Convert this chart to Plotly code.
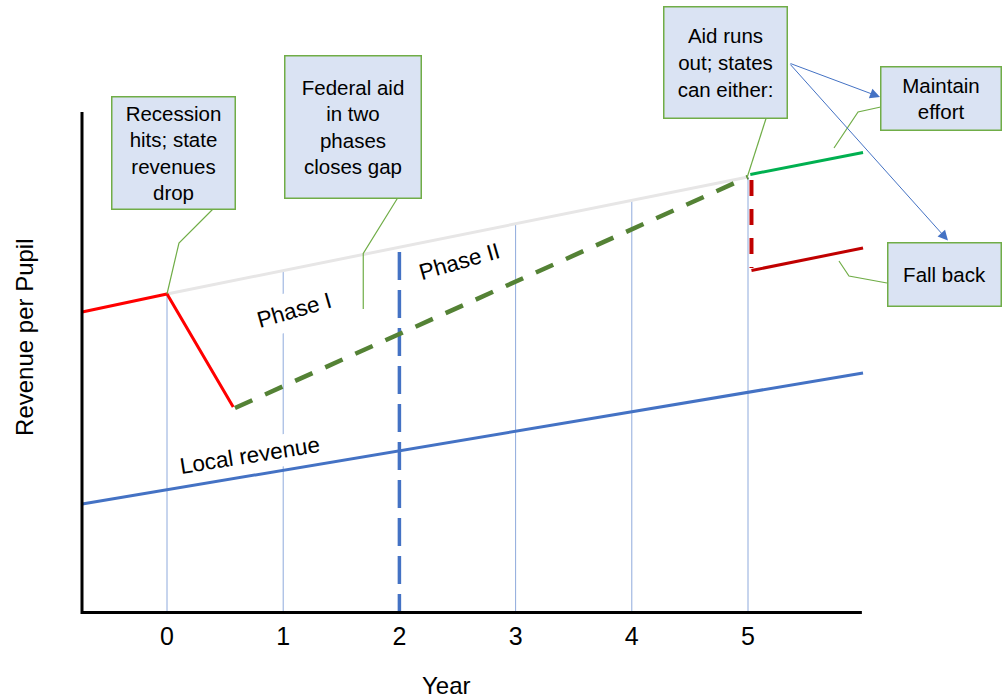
import plotly.graph_objects as go

# ---------------- data (arbitrary revenue units) ----------------
YEARS = [0, 1, 2, 3, 4, 5]
TICK_LABELS = ["0", "1", "2", "3", "4", "5"]

# state revenue before / during the recession
state_x = [-0.73, 0.0, 0.57]
state_y = [5.96, 6.32, 4.06]

# pre-recession trend (light grey)
trend_x = [0.0, 5.0]
trend_y = [6.32, 8.66]

# federal aid path (dashed green)
aid_x = [0.585, 5.0]
aid_y = [4.04, 8.66]

# maintain effort (green)
maintain_x = [5.02, 5.99]
maintain_y = [8.71, 9.15]

# drop when aid runs out (dashed dark red)
drop_x = [5.03, 5.03]
drop_y = [8.60, 6.84]

# fall back (dark red)
fallback_x = [5.03, 5.99]
fallback_y = [6.79, 7.24]

# local revenue (blue)
local_x = [-0.73, 5.99]
local_y = [2.12, 4.74]

# thin guide lines at years
guide_years = [0, 1, 3, 4, 5]
guide_tops = [6.32, 6.79, 7.72, 8.19, 8.66]

# phase split (dashed blue) at year 2
split_year = 2
split_top = 7.16

# axis frame
AX_LEFT = -0.7315
AX_RIGHT = 5.98
AX_TOP = 9.96
AX_BASE = -0.05

# callout boxes: text, x, y, width, height
boxes = [
    ("Recession<br>hits; state<br>revenues<br>drop", 0.056, 9.15, 122, 111),
    ("Federal aid<br>in two<br>phases<br>closes gap", 1.601, 9.67, 135, 141),
    ("Aid runs<br>out; states<br>can either:", 4.806, 10.96, 122, 110),
    ("Maintain<br>effort", 6.66, 10.24, 119, 62),
    ("Fall back", 6.69, 6.72, 112, 62),
]

# leader lines (polylines) from boxes
leaders = [
    ([0.396, 0.103, 0.0], [8.02, 7.34, 6.32]),
    ([1.982, 1.689, 1.689], [8.23, 7.13, 6.02]),
    ([5.155, 4.991], [9.83, 8.64]),
    ([6.142, 5.947, 5.740], [10.06, 9.96, 9.24]),
    ([6.196, 5.869, 5.783], [6.54, 6.68, 6.98]),
]

# arrows from "Aid runs out" box: (tail x, tail y, head x, head y)
arrows = [
    (5.353, 10.94, 6.136, 10.26),
    (5.353, 10.94, 6.721, 7.39),
]

# rotated labels: text, x, y, angle, background pad
labels = [
    ("Phase I", 1.09, 6.0, -16, 6),
    ("Phase II", 2.52, 6.98, -16, 4),
    ("Local revenue", 0.714, 3.1, -9, 3),
]

FONT = "Liberation Sans, Arial, Helvetica, sans-serif"

fig = go.Figure()


def add_line(x, y, color, width, dash="solid"):
    fig.add_trace(go.Scatter(
        x=x, y=y, mode="lines",
        line=dict(color=color, width=width, dash=dash),
        showlegend=False, hoverinfo="skip",
    ))


# guide lines
gx, gy = [], []
for yr, top in zip(guide_years, guide_tops):
    gx += [yr, yr, None]
    gy += [AX_BASE, top, None]
add_line(gx, gy, "#8faadc", 1)

# trend
add_line(trend_x, trend_y, "#e7e6e6", 3)

# phase split
add_line([split_year, split_year], [split_top, AX_BASE], "#4472c4", 3.5, "28px,10px")

# local revenue
add_line(local_x, local_y, "#4472c4", 3)

# state path
add_line(state_x, state_y, "#ff0000", 3)
add_line(aid_x, aid_y, "#548235", 4.5, "19px,14px")
add_line(maintain_x, maintain_y, "#00b050", 3)
add_line(drop_x, drop_y, "#c00000", 4, "16px,13px")
add_line(fallback_x, fallback_y, "#c00000", 3)

# leader lines
for lx, ly in leaders:
    add_line(lx, ly, "#70ad47", 1.2)

# axis frame
add_line([AX_LEFT, AX_LEFT, AX_RIGHT], [AX_TOP, AX_BASE, AX_BASE], "#000000", 3)

annotations = []
for text, bx, by, w, h in boxes:
    annotations.append(dict(
        x=bx, y=by, xref="x", yref="y", text=text, showarrow=False,
        xanchor="center", yanchor="middle", align="center",
        width=w, height=h, bgcolor="#dae3f3", bordercolor="#70ad47",
        borderwidth=1.5, borderpad=0,
        font=dict(family=FONT, size=20.5, color="#000000"),
    ))

for tx, ty, hx, hy in arrows:
    annotations.append(dict(
        x=hx, y=hy, ax=tx, ay=ty, xref="x", yref="y", axref="x", ayref="y",
        text="", showarrow=True, arrowhead=2, arrowsize=2, arrowwidth=1,
        arrowcolor="#4472c4", standoff=0, startstandoff=0,
    ))

for text, lx, ly, ang, pad in labels:
    annotations.append(dict(
        x=lx, y=ly, xref="x", yref="y", text=text, showarrow=False,
        textangle=ang, xanchor="center", yanchor="middle",
        bgcolor="#ffffff", borderpad=pad,
        font=dict(family=FONT, size=22.5, color="#000000"),
    ))

# axis titles
annotations.append(dict(
    x=0.4098, y=-0.110, xref="paper", yref="paper", text="Year", showarrow=False,
    xanchor="center", yanchor="middle",
    font=dict(family=FONT, size=24, color="#000000"),
))
annotations.append(dict(
    x=-0.0372, y=0.4547, xref="paper", yref="paper", text="Revenue per Pupil",
    showarrow=False, textangle=-90, xanchor="center", yanchor="middle",
    font=dict(family=FONT, size=24, color="#000000"),
))

fig.update_layout(
    width=1002, height=698,
    margin=dict(l=60, r=0, t=0, b=80, pad=0),
    paper_bgcolor="#ffffff", plot_bgcolor="#ffffff",
    xaxis=dict(
        range=[-0.9208, 7.1859], tickvals=YEARS, ticktext=TICK_LABELS,
        showgrid=False, zeroline=False, showline=False, ticks="",
        tickfont=dict(family=FONT, size=25, color="#000000"),
        ticklabelstandoff=1, fixedrange=True,
    ),
    yaxis=dict(
        range=[-0.16, 12.2], showticklabels=False, showgrid=False,
        zeroline=False, showline=False, ticks="", fixedrange=True,
    ),
    annotations=annotations,
    showlegend=False,
)

fig.write_html(
    "out.html",
    config={"displayModeBar": False},
    post_script="document.body.style.margin='0px';document.body.style.overflow='hidden';",
)
